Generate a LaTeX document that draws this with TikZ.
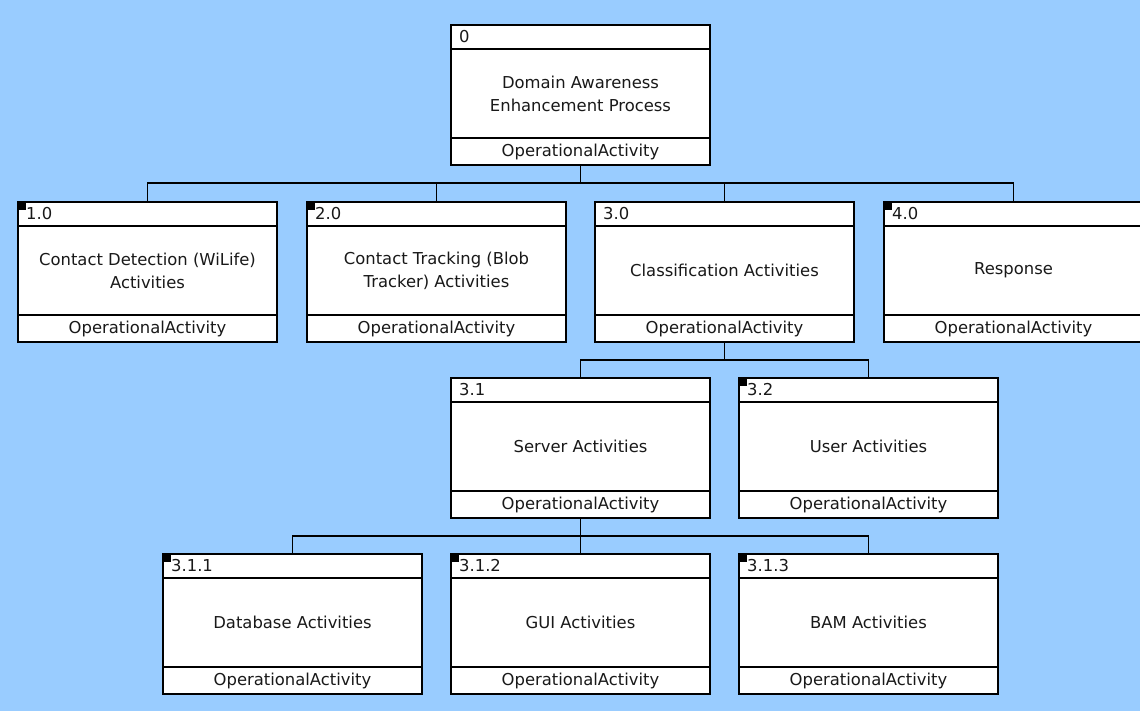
\documentclass[tikz,border=0pt]{standalone}
\usepackage{fontspec}
\setmainfont{DejaVu Sans}
\definecolor{bg}{HTML}{99CCFF}
\tikzset{
  actbox/.style={draw=black, fill=white, line width=1.4pt, minimum width=259pt, minimum height=140pt, inner sep=0pt, outer sep=0pt},
  divider/.style={draw=black, line width=1.2pt},
  conn/.style={draw=black, line width=1.7pt},
  mk/.style={fill=black, minimum size=7pt, inner sep=0pt, outer sep=0pt},
  lbl/.style={font=\fontsize{16.4}{23}\selectfont, align=center, inner sep=0pt, text=black!90},
}
\newcommand\actbox[6]{%
  \node[actbox, anchor=north west] (#1) at (#2,#3) {};
  \draw[divider] ([yshift=-24pt]#1.north west) -- ([yshift=-24pt]#1.north east);
  \draw[divider] ([yshift=27pt]#1.south west) -- ([yshift=27pt]#1.south east);
  \node[lbl, anchor=west] (#1-num) at ([xshift=8pt,yshift=-12pt]#1.north west) {#4};
  \node[lbl] (#1-txt) at ([yshift=1.5pt]#1.center) {#5};
  \node[lbl] (#1-type) at ([yshift=13.5pt]#1.south) {OperationalActivity};
  \ifnum#6=1 \node[mk, anchor=north west] (#1-mk) at ([xshift=0.6pt,yshift=-0.6pt]#1.north west) {};\fi
}
\begin{document}
\begin{tikzpicture}[x=1pt,y=-1pt]
\useasboundingbox (0,0) rectangle (1140,711);
\clip (0,0) rectangle (1140,711);
\fill[bg] (0,0) rectangle (1140,711);

\coordinate (bus0) at (0,183);
\coordinate (bus1) at (0,360);
\coordinate (bus2) at (0,536);

\actbox{b0}{451}{25}{0}{Domain Awareness\\Enhancement Process}{0}
\actbox{b1}{18}{202}{1.0}{Contact Detection (WiLife)\\Activities}{1}
\actbox{b2}{307}{202}{2.0}{Contact Tracking (Blob\\Tracker) Activities}{1}
\actbox{b3}{595}{202}{3.0}{Classification Activities}{0}
\actbox{b4}{884}{202}{4.0}{Response}{1}
\actbox{b31}{451}{378}{3.1}{Server Activities}{0}
\actbox{b32}{739}{378}{3.2}{User Activities}{1}
\actbox{b311}{163}{554}{3.1.1}{Database Activities}{1}
\actbox{b312}{451}{554}{3.1.2}{GUI Activities}{1}
\actbox{b313}{739}{554}{3.1.3}{BAM Activities}{1}

\foreach \c in {b1,b2,b3,b4}
  \draw[conn] (b0.south) -- (b0.south |- bus0) -| (\c.north);
\foreach \c in {b31,b32}
  \draw[conn] (b3.south) -- (b3.south |- bus1) -| (\c.north);
\foreach \c in {b311,b312,b313}
  \draw[conn] (b31.south) -- (b31.south |- bus2) -| (\c.north);
\end{tikzpicture}
\end{document}
